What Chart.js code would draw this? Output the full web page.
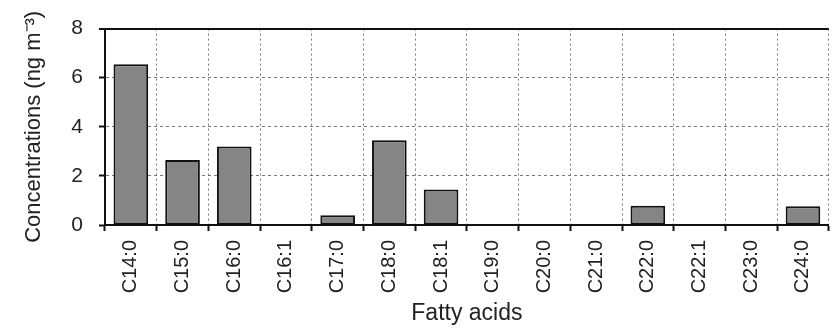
<!DOCTYPE html>
<html>
<head>
<meta charset="utf-8">
<script src="https://cdn.jsdelivr.net/npm/chart.js@4"></script>
<style>
  html, body { margin: 0; padding: 0; background: #fff; }
  #wrap { width: 836px; height: 329px; }
</style>
</head>
<body>
<div id="wrap"><canvas id="acidsChart"></canvas></div>
<script>
// ----- DATA -----
const acids = ["C14:0", "C15:0", "C16:0", "C16:1", "C17:0", "C18:0", "C18:1",
               "C19:0", "C20:0", "C21:0", "C22:0", "C22:1", "C23:0", "C24:0"];
const concentrations = [6.55, 2.65, 3.2, 0.02, 0.4, 3.45, 1.45,
                        0.02, 0.02, 0.02, 0.78, 0.02, 0.02, 0.76];
const yTicks = [0, 2, 4, 6, 8];

const font = "'Liberation Sans', Arial, sans-serif";

// ----- CHART -----
const ctx = document.getElementById("acidsChart").getContext("2d");

new Chart(ctx, {
    type: "bar",
    data: {
        labels: acids,
        datasets: [{
            data: concentrations,
            backgroundColor: "#858585",
            borderColor: "#111",
            borderWidth: 2,
            borderSkipped: false,
            barPercentage: 0.67,
            categoryPercentage: 1
        }]
    },
    options: {
        responsive: true,
        maintainAspectRatio: false,
        animation: false,
        layout: { padding: { top: 23, right: 1, left: 4, bottom: 2 } },
        plugins: { legend: { display: false }, tooltip: { enabled: false } },
        scales: {
            x: {
                offset: true,
                afterFit: axis => { axis.height = 102; },
                grid: {
                    offset: true,
                    color: "#777",
                    lineWidth: 1,
                    tickLength: 6,
                    tickColor: "#111",
                    tickWidth: 2
                },
                border: {
                    color: "#111",
                    width: 2,
                    dash: c => (c.index === acids.length ? [] : [2, 3])
                },
                ticks: {
                    color: "#222",
                    font: { family: font, size: 20 },
                    maxRotation: 90,
                    minRotation: 90,
                    padding: 9
                },
                title: {
                    display: true,
                    text: "Fatty acids",
                    color: "#222",
                    font: { family: font, size: 23 },
                    padding: { top: 0, bottom: 0 }
                }
            },
            y: {
                min: 0,
                max: 8,
                afterBuildTicks: axis => { axis.ticks = yTicks.map(v => ({ value: v })); },
                afterFit: axis => { axis.width = 101; },
                grid: {
                    color: c => (c.tick && c.tick.value === 8 ? "#111" : "#777"),
                    lineWidth: c => (c.tick && c.tick.value === 8 ? 2 : 1),
                    tickLength: 6,
                    tickColor: "#111",
                    tickWidth: 2
                },
                border: {
                    color: "#111",
                    width: 2,
                    dash: c => (c.tick && c.tick.value === 8 ? [] : [3, 3])
                },
                ticks: {
                    color: "#222",
                    font: { family: font, size: 21 },
                    padding: 16
                },
                title: {
                    display: true,
                    text: "Concentrations (ng m\u207B\u00B3)",
                    color: "#222",
                    font: { family: font, size: 22 },
                    padding: { top: 17, bottom: 0 }
                }
            }
        }
    }
});
</script>
</body>
</html>
